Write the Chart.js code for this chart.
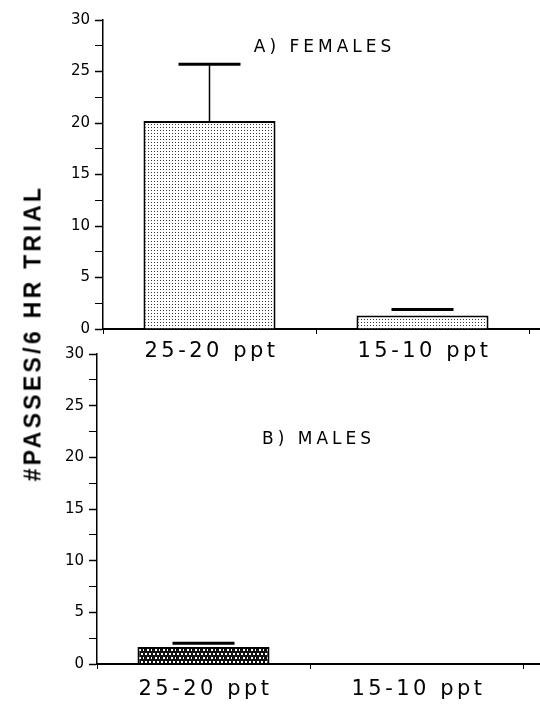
<!DOCTYPE html>
<html>
<head>
<meta charset="utf-8">
<script src="https://cdn.jsdelivr.net/npm/chart.js@4.4.0/dist/chart.umd.min.js"></script>
<style>
  body { margin: 0; background: #fff; width: 540px; height: 706px; position: relative; overflow: hidden; }
  #females { position: absolute; left: 0; top: 0; }
  #males { position: absolute; left: 0; top: 340px; }
  #ytitle {
    position: absolute; left: 33px; top: 333px;
    transform: translate(-50%, -50%) rotate(-90deg);
    font: bold 23px "Liberation Sans", Arial, sans-serif;
    letter-spacing: 3.3px; white-space: nowrap; color: #000;
  }
</style>
</head>
<body>
<canvas id="females" width="540" height="370"></canvas>
<canvas id="males" width="540" height="366"></canvas>
<div id="ytitle">#PASSES/6 HR TRIAL</div>
<script>
const categories = ['25-20 ppt', '15-10 ppt'];
const femaleMeans = [20.2, 1.3];
const femaleErrors = [5.5, 0.6];
const maleMeans = [1.65, 0];
const maleErrors = [0.35, null];
const yMax = 30;

// stipple fills like the old print
function dots(bg, fg, size, spots) {
  const c = document.createElement('canvas');
  c.width = size; c.height = size;
  const g = c.getContext('2d');
  g.fillStyle = bg; g.fillRect(0, 0, size, size);
  g.fillStyle = fg;
  spots.forEach(s => g.fillRect(s[0], s[1], s[2], s[2]));
  return g.createPattern(c, 'repeat');
}
const lightDots = dots('#fff', '#333', 3, [[1, 1, 1]]);
const darkDots = dots('#111', '#fff', 8, [[1, 1, 2], [5, 1, 2], [3, 5, 2], [7, 5, 2]]);

// error bars, panel label, spaced-out category labels, long x axis line
const extras = {
  id: 'extras',
  afterDatasetsDraw(chart, args, opts) {
    const ctx = chart.ctx;
    const y = chart.scales.y;
    const x = chart.scales.x;
    const ca = chart.chartArea;
    const bars = chart.getDatasetMeta(0).data;
    const vals = chart.data.datasets[0].data;
    ctx.save();
    ctx.strokeStyle = '#000';
    bars.forEach((bar, i) => {
      const e = opts.errors[i];
      if (e == null) return;
      const top = y.getPixelForValue(vals[i] + e);
      const base = y.getPixelForValue(vals[i]);
      if (base - top > 10) {
        ctx.lineWidth = 1.5;
        ctx.beginPath();
        ctx.moveTo(bar.x, base);
        ctx.lineTo(bar.x, top);
        ctx.stroke();
      }
      ctx.lineWidth = 3;
      ctx.beginPath();
      ctx.moveTo(bar.x - 31, top);
      ctx.lineTo(bar.x + 31, top);
      ctx.stroke();
    });
    // axis runs on to the page edge
    ctx.lineWidth = 2;
    ctx.beginPath();
    ctx.moveTo(ca.right, ca.bottom);
    ctx.lineTo(chart.width, ca.bottom);
    ctx.stroke();

    ctx.fillStyle = '#000';
    ctx.textAlign = 'center';
    ctx.textBaseline = 'middle';
    ctx.letterSpacing = '4px';
    ctx.font = '17px "DejaVu Sans", sans-serif';
    ctx.fillText(opts.label, ca.left + (ca.right - ca.left) * 0.52, y.getPixelForValue(opts.labelAt));
    ctx.letterSpacing = '3.5px';
    ctx.font = '21px "DejaVu Sans", sans-serif';
    chart.data.labels.forEach((lab, i) => {
      ctx.fillText(lab, x.getPixelForTick(i) + 2, ca.bottom + opts.labelGap);
    });
    ctx.restore();
  }
};

function panel(id, means, errors, fill, label, labelAt, yWidth, top, right, xHeight, labelGap) {
  return new Chart(document.getElementById(id), {
    type: 'bar',
    plugins: [extras],
    data: {
      labels: categories,
      datasets: [{
        data: means,
        backgroundColor: fill,
        borderColor: '#000',
        borderWidth: 2,
        borderSkipped: 'bottom',
        barPercentage: 1,
        categoryPercentage: 0.62
      }]
    },
    options: {
      responsive: false,
      animation: false,
      layout: { padding: { top: top, right: right, left: 0, bottom: 0 } },
      plugins: {
        legend: { display: false },
        tooltip: { enabled: false },
        extras: { errors: errors, label: label, labelAt: labelAt, labelGap: labelGap }
      },
      scales: {
        x: {
          offset: true,
          afterFit(s) { s.height = xHeight; },
          border: { color: '#000', width: 2 },
          grid: { drawOnChartArea: false, offset: true, tickLength: 5, color: '#000' },
          ticks: { display: false }
        },
        y: {
          min: 0,
          max: yMax,
          afterFit(s) { s.width = yWidth; },
          border: { color: '#000', width: 1.5 },
          grid: {
            drawOnChartArea: false,
            tickLength: 8,
            tickColor: '#000',
            tickWidth: c => (c.tick && c.tick.value % 5 === 0 ? 1.5 : 1)
          },
          ticks: {
            stepSize: 2.5,
            color: '#000',
            padding: 5,
            font: { family: 'DejaVu Sans', size: 15 },
            callback: v => (v % 5 === 0 ? v : '')
          }
        }
      }
    }
  });
}

panel('females', femaleMeans, femaleErrors, lightDots, 'A) FEMALES', 27.3, 103, 20, 11, 41, 23);
panel('males', maleMeans, maleErrors, darkDots, 'B) MALES', 21.7, 97, 12, 17, 42, 26);
</script>
</body>
</html>
